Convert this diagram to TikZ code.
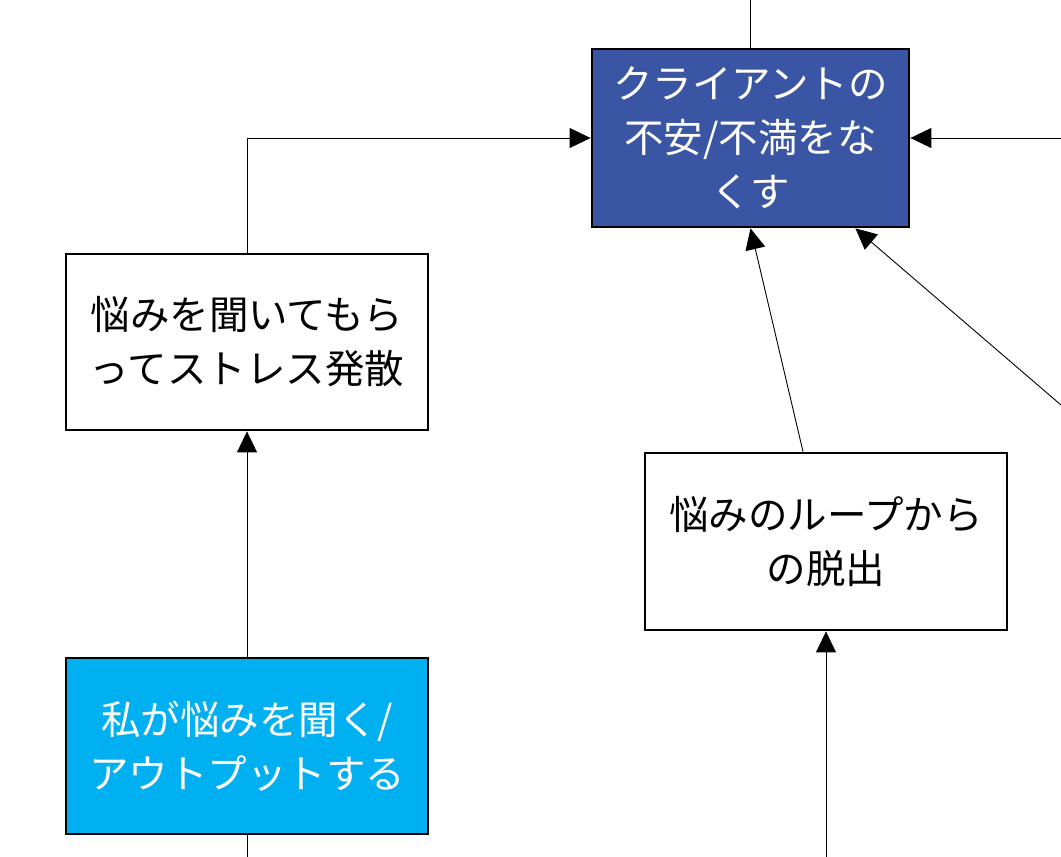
\documentclass[tikz,border=0pt]{standalone}
\usepackage{fontspec}
\setmainfont{Noto Sans CJK JP}
\usetikzlibrary{arrows.meta,calc}
\definecolor{darkblue}{HTML}{3A55A3}
\definecolor{cyanfill}{HTML}{00B0F0}
\tikzset{
  box/.style={draw=black, line width=2.8pt, rectangle, inner sep=0pt, align=center,
    minimum width=362pt, minimum height=176pt,
    font=\fontsize{39.5}{54}\selectfont},
  conn/.style={draw=black, line width=0.9pt},
  arr/.style={conn, -{Triangle[length=21pt,width=20pt]}}
}
\begin{document}
\begin{tikzpicture}[x=1pt,y=-1pt]
\useasboundingbox (0,0) rectangle (1061,857);
\node[box, fill=darkblue, text=white, minimum width=317pt, minimum height=178pt] (blue) at (750.5,138) {クライアントの\\不安/不満をな\\くす};
\node[box, fill=white] (left) at (247,342) {悩みを聞いてもら\\ってストレス発散};
\node[box, fill=white, minimum height=177pt] (mid) at (826,541.5) {悩みのループから\\の脱出};
\node[box, fill=cyanfill, text=white] (bot) at (247,746) {私が悩みを聞く/\\アウトプットする};
\coordinate (topin) at (750.5,0);
\coordinate (rightin) at (1061,138);
\coordinate (diagin) at (1061,405);
\coordinate (botout) at (247,857);
\coordinate (midin) at (826,857);
\draw[conn] (topin) -- (blue.north);
\draw[arr] (left.north) |- (blue.west);
\draw[arr] (rightin) -- (blue.east);
\draw[arr] (diagin) -- (blue);
\draw[arr] ($(mid.north)+(-23,0)$) -- (blue.south);
\draw[arr] (bot.north) -- (left.south);
\draw[conn] (bot.south) -- (botout);
\draw[arr] (midin) -- (mid.south);
\end{tikzpicture}
\end{document}
